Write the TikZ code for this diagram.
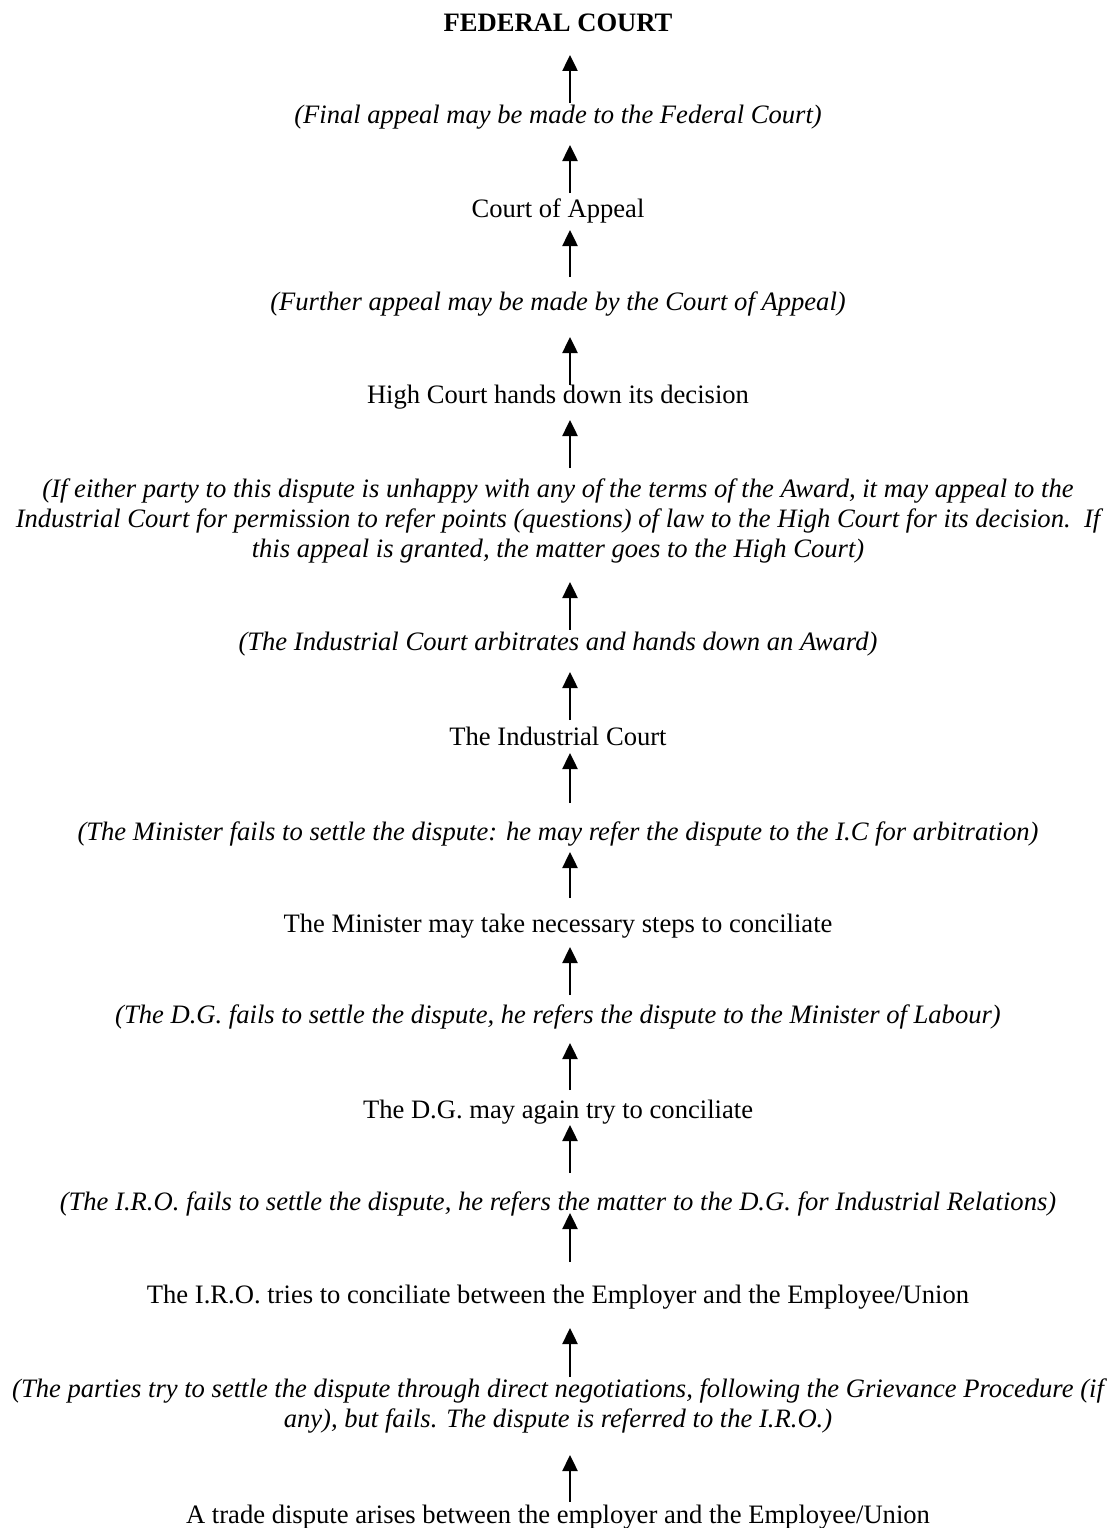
\documentclass[tikz,border=0pt]{standalone}
\usepackage{fontspec}
\setmainfont{Liberation Serif}
\usetikzlibrary{arrows.meta}
\begin{document}
\begin{tikzpicture}[x=1pt,y=-1pt,
  lbl/.style={anchor=base,inner sep=0pt,font=\fontsize{26.6}{30}\selectfont},
  note/.style={lbl,font=\fontsize{26.6}{30}\selectfont\itshape},
  head/.style={lbl,font=\fontsize{26.6}{30}\selectfont\bfseries},
  arr/.style={line width=2.5pt,-{Triangle[length=16pt,width=15pt]}}]
\useasboundingbox (0,0) rectangle (1117,1528);
\def\cx{558}
\node[head] (t1) at (\cx,32) {FEDERAL COURT};
\node[note] (t2) at (\cx,123) {(Final appeal may be made to the Federal Court)};
\node[lbl] (t3) at (\cx,217) {Court of Appeal};
\node[note] (t4) at (\cx,310) {(Further appeal may be made by the Court of Appeal)};
\node[lbl] (t5) at (\cx,403) {High Court hands down its decision};
\node[note] (t6a) at (\cx,497) {(If either party to this dispute is unhappy with any of the terms of the Award, it may appeal to the};
\node[note] (t6b) at (\cx,527) {Industrial Court for permission to refer points (questions) of law to the High Court for its decision.\ \ If};
\node[note] (t6c) at (\cx,557) {this appeal is granted, the matter goes to the High Court)};
\node[note] (t7) at (\cx,650) {(The Industrial Court arbitrates and hands down an Award)};
\node[lbl] (t8) at (\cx,745) {The Industrial Court};
\node[note] (t9) at (\cx,840) {(The Minister fails to settle the dispute: he may refer the dispute to the I.C for arbitration)};
\node[lbl] (t10) at (\cx,932) {The Minister may take necessary steps to conciliate};
\node[note] (t11) at (\cx,1023) {(The D.G. fails to settle the dispute, he refers the dispute to the Minister of Labour)};
\node[lbl] (t12) at (\cx,1118) {The D.G. may again try to conciliate};
\node[note] (t13) at (\cx,1210) {(The I.R.O. fails to settle the dispute, he refers the matter to the D.G. for Industrial Relations)};
\node[lbl] (t14) at (\cx,1303) {The I.R.O. tries to conciliate between the Employer and the Employee/Union};
\node[note] (t15a) at (\cx,1397) {(The parties try to settle the dispute through direct negotiations, following the Grievance Procedure (if};
\node[note] (t15b) at (\cx,1427) {any), but fails. The dispute is referred to the I.R.O.)};
\node[lbl] (t16) at (\cx,1523) {A trade dispute arises between the employer and the Employee/Union};
% arrow end points
\foreach \n/\b/\t in {1/103/55, 2/193/145, 3/277/230, 4/385/337, 5/468/420, 6/630/582, 7/720/672,
  8/803/753, 9/898/852, 10/995/947, 11/1090/1043, 12/1173/1125, 13/1262/1213, 14/1377/1328, 15/1502/1455}{
  \coordinate (s\n) at (570,\b);
  \coordinate (e\n) at (570,\t);
  \draw[arr] (s\n) -- (e\n);
}
\end{tikzpicture}
\end{document}
